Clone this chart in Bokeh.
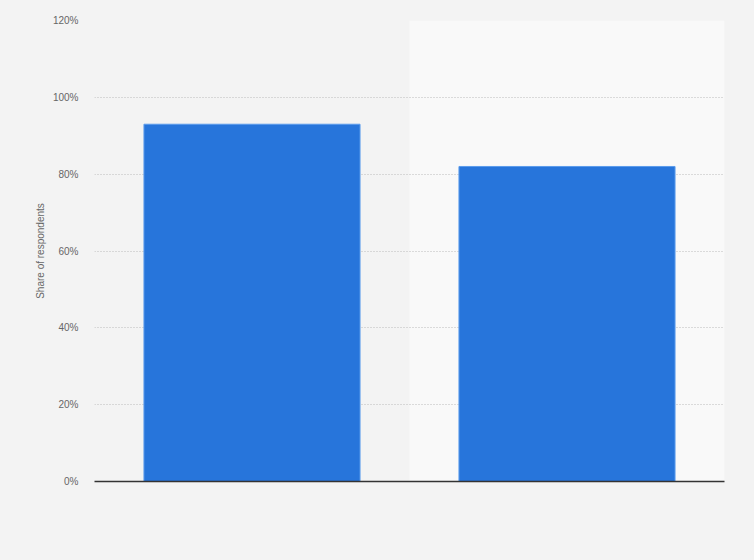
from bokeh.embed import file_html
from bokeh.models import FactorRange, SingleIntervalTicker
from bokeh.plotting import figure
from bokeh.resources import INLINE

# categories are not labelled in the picture
categories = ["Group 1", "Group 2"]
shares = [93, 82]
band_colors = ["#f3f3f3", "#f9f9f9"]
y_ticks = [0, 20, 40, 60, 80, 100, 120]

p = figure(
    x_range=FactorRange(*categories, range_padding=0),
    y_range=(0, 120),
    width=746,
    height=552,
    output_backend="svg",
    toolbar_location=None,
    tools="",
    background_fill_color="#f3f3f3",
    border_fill_color="#f3f3f3",
    outline_line_color=None,
    min_border_left=94,
    min_border_right=22,
    min_border_top=20,
    min_border_bottom=71,
)

# alternating category bands behind the bars
p.rect(x=categories, y=60, width=1, height=120, fill_color=band_colors,
       line_color=None, level="underlay")

p.vbar(x=categories, top=shares, width=0.686, fill_color="#2775db",
       line_color="#5b9cec", line_width=1)

p.yaxis.ticker = SingleIntervalTicker(interval=20)
p.yaxis.major_label_overrides = {v: f"{v}%" for v in y_ticks}
p.yaxis.axis_line_color = None
p.yaxis.major_tick_line_color = None
p.yaxis.minor_tick_line_color = None
p.yaxis.major_label_text_font = "Liberation Sans"
p.yaxis.major_label_text_font_size = "10px"
p.yaxis.major_label_text_color = "#666666"
p.yaxis.major_label_standoff = 10
p.yaxis.axis_label = "Share of respondents"
p.yaxis.axis_label_text_font = "Liberation Sans"
p.yaxis.axis_label_text_font_size = "10px"
p.yaxis.axis_label_text_font_style = "normal"
p.yaxis.axis_label_text_color = "#666666"
p.yaxis.axis_label_standoff = 4

p.xaxis.axis_line_color = "#333333"
p.xaxis.axis_line_width = 1.5
p.xaxis.major_tick_line_color = None
p.xaxis.minor_tick_line_color = None
p.xaxis.major_label_text_color = None
p.xgrid.grid_line_color = None

p.ygrid.grid_line_color = "#bbbbbb"
p.ygrid.grid_line_dash = "1 2"
p.ygrid.grid_line_width = 1
p.ygrid.level = "underlay"

html = file_html(p, INLINE)
html = html.replace("<body>", '<body style="background-color:#f3f3f3">')
open("out.html", "w").write(html)
